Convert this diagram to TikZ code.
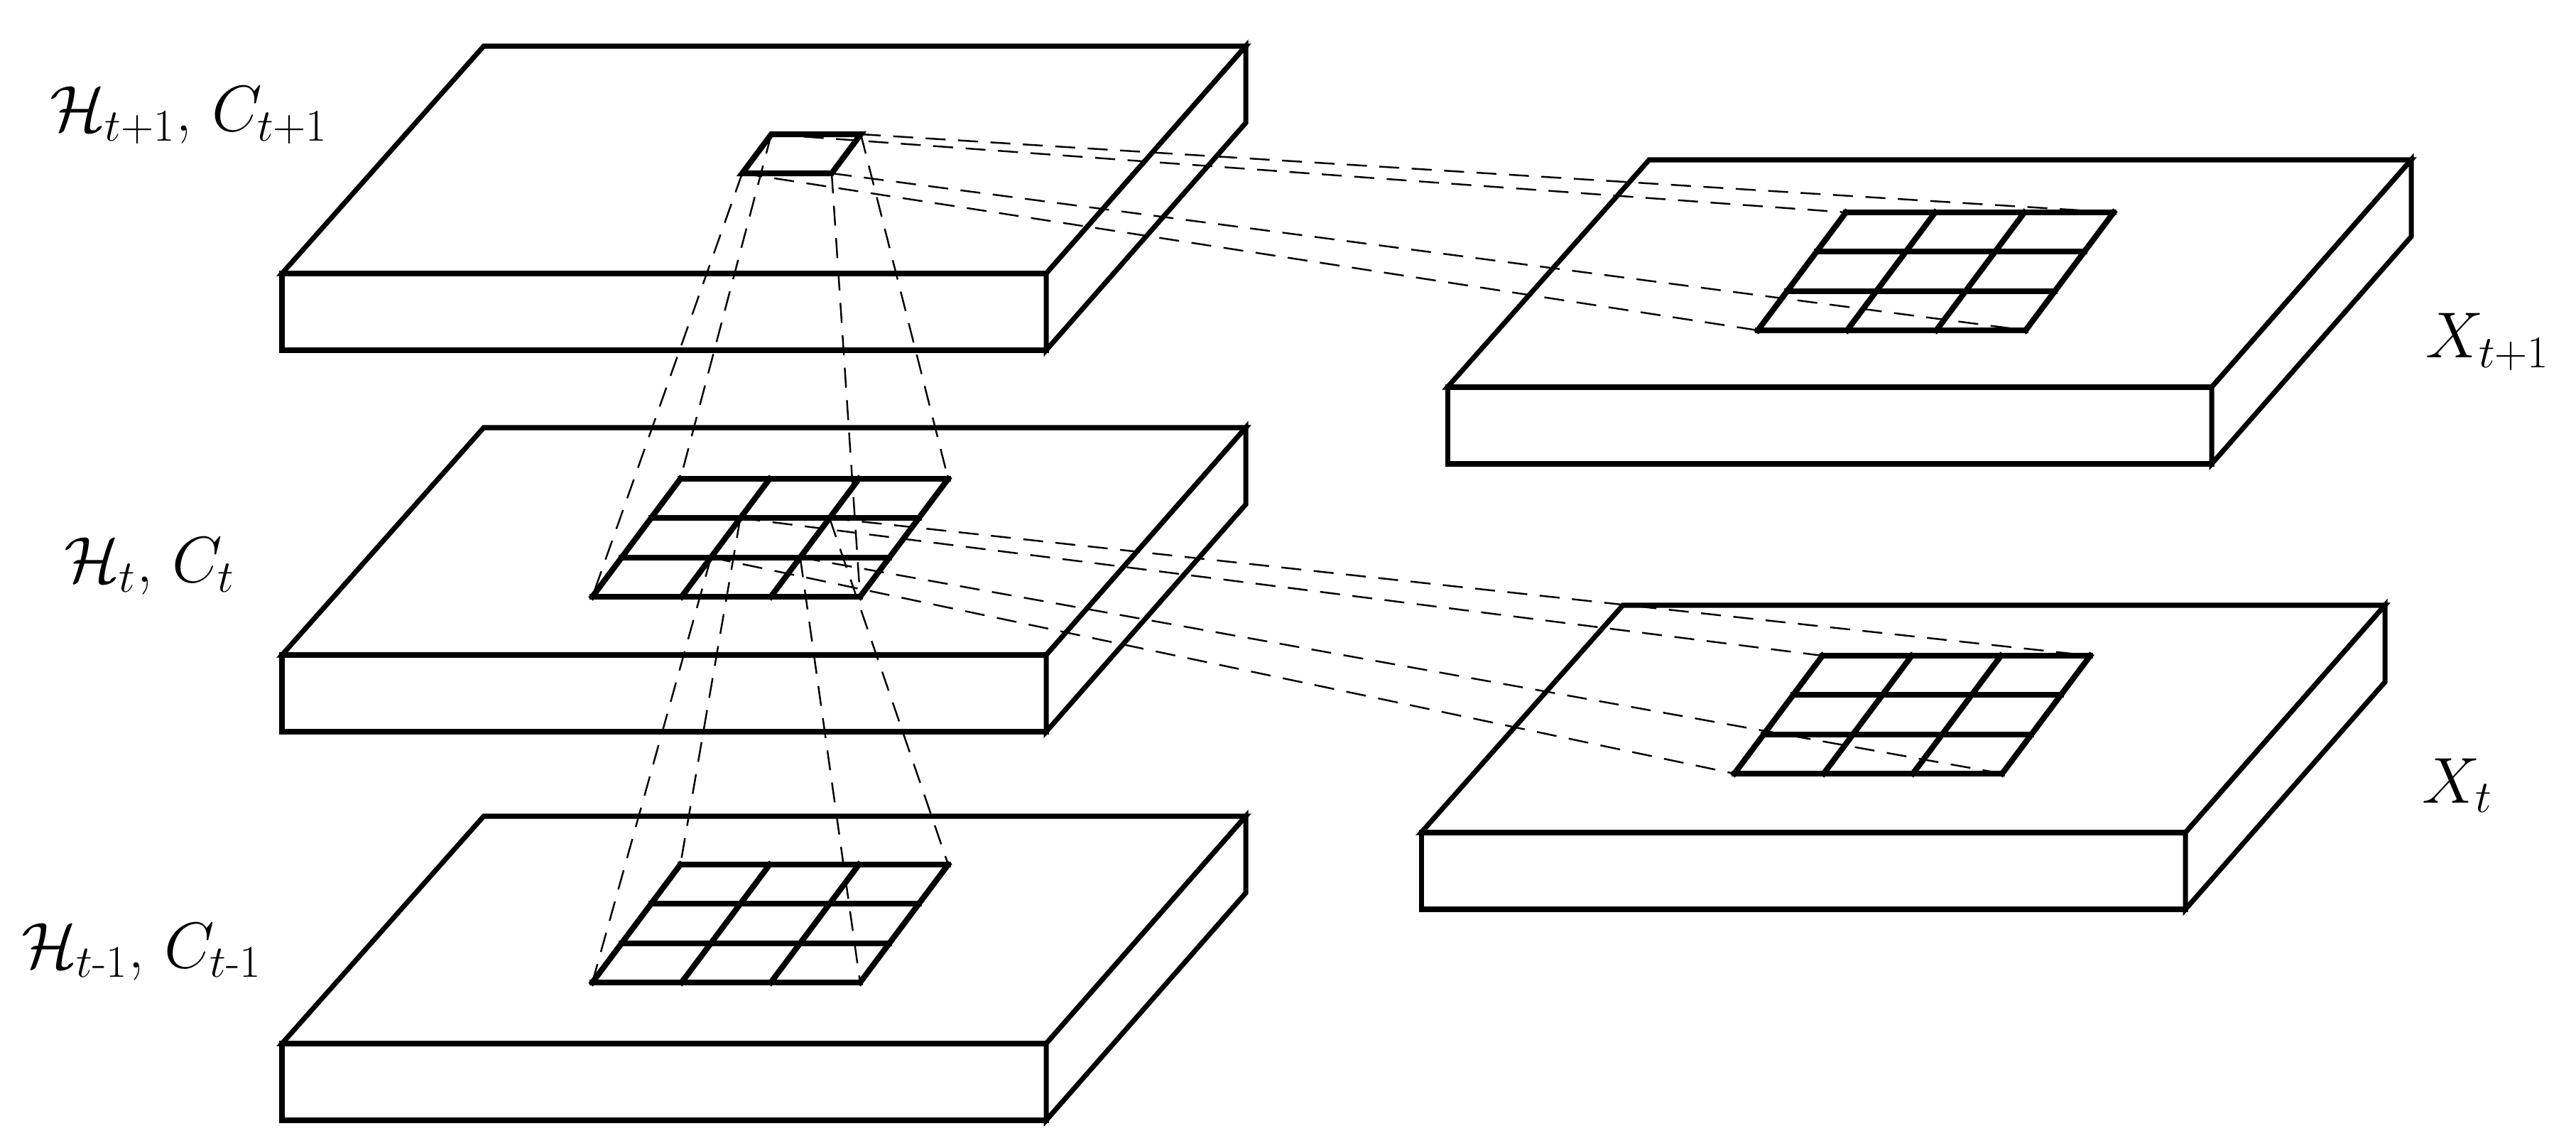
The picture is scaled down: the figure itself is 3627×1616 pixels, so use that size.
\RequirePackage{fix-cm}
\documentclass[tikz,border=0pt]{standalone}
\usepackage{amsmath}
\usetikzlibrary{calc}

\begin{document}
\begin{tikzpicture}[
    x=0.01cm, y=-0.01cm,
    slab/.style={draw, line width=2pt, fill=white},
    cellgrid/.style={line width=2.3pt, line cap=rect},
    proj/.style={line width=0.7pt, dash pattern=on 8pt off 5pt},
    tag/.style={anchor=base west, inner sep=0pt, font=\fontsize{26}{30}\selectfont}
]
\useasboundingbox (0,0) rectangle (3627,1616);

% Slabs (back-left corner of the top face)
\foreach \name/\bx/\by in {hnext/681/65, hcur/681/602, hprev/681/1149, xnext/2322/225, xcur/2285/852} {
    \coordinate (\name-bl) at (\bx,\by);
    \coordinate (\name-br) at (\bx+1073,\by);
    \coordinate (\name-fl) at (\bx-284,\by+320);
    \coordinate (\name-fr) at (\bx+792,\by+320);
    \draw[slab] (\name-bl) -- (\name-br) -- (\name-fr) -- (\name-fl) -- cycle;
    \draw[slab] (\name-fl) rectangle ($(\name-fr)+(0,108)$);
    \draw[slab] (\name-br) -- ++(0,108) -- ($(\name-fr)+(0,108)$) -- (\name-fr) -- cycle;
}

% 3x3 grids
\foreach \name/\gx/\gy in {gcur/958/674, gprev/958/1217, gxnext/2599/299, gxcur/2566/923} {
    \coordinate (\name-tl) at (\gx,\gy);
    \coordinate (\name-tr) at (\gx+377,\gy);
    \coordinate (\name-dl) at (\gx-124,\gy+166);
    \coordinate (\name-dr) at (\gx+253,\gy+166);
    \foreach \k in {0,1,2,3} {
        \draw[cellgrid] ($(\name-tl)!\k/3!(\name-dl)$) -- ($(\name-tr)!\k/3!(\name-dr)$);
        \draw[cellgrid] ($(\name-tl)!\k/3!(\name-tr)$) -- ($(\name-dl)!\k/3!(\name-dr)$);
    }
}

% single cell on H_{t+1}
\coordinate (sq-tl) at (1086,189);
\coordinate (sq-tr) at (1212,189);
\coordinate (sq-dl) at (1045,244);
\coordinate (sq-dr) at (1171,244);
\draw[cellgrid] (sq-tl) -- (sq-tr) -- (sq-dr) -- (sq-dl) -- cycle;

% centre cell of the H_t grid
\coordinate (mid-tl) at ($(gcur-tl)!1/3!(gcur-dl)+(377/3,0)$);
\coordinate (mid-tr) at ($(gcur-tl)!1/3!(gcur-dl)+(754/3,0)$);
\coordinate (mid-dl) at ($(gcur-tl)!2/3!(gcur-dl)+(377/3,0)$);
\coordinate (mid-dr) at ($(gcur-tl)!2/3!(gcur-dl)+(754/3,0)$);

% Projections
\foreach \c in {tl,tr,dl,dr} {
    \draw[proj] (sq-\c) -- (gcur-\c);
    \draw[proj] (sq-\c) -- (gxnext-\c);
    \draw[proj] (mid-\c) -- (gprev-\c);
    \draw[proj] (mid-\c) -- (gxcur-\c);
}

% Labels
\node[tag] (lhnext) at (70,185) {$\mathcal{H}_{t+1}$, $C_{t+1}$};
\node[tag] (lhcur) at (90,820) {$\mathcal{H}_{t}$, $C_{t}$};
\node[tag] (lhprev) at (30,1362) {$\mathcal{H}_{t\text{-}1}$, $C_{t\text{-}1}$};
\node[tag] (lxnext) at (3415,504) {$X_{t+1}$};
\node[tag] (lxcur) at (3410,1130) {$X_{t}$};

\end{tikzpicture}
\end{document}
